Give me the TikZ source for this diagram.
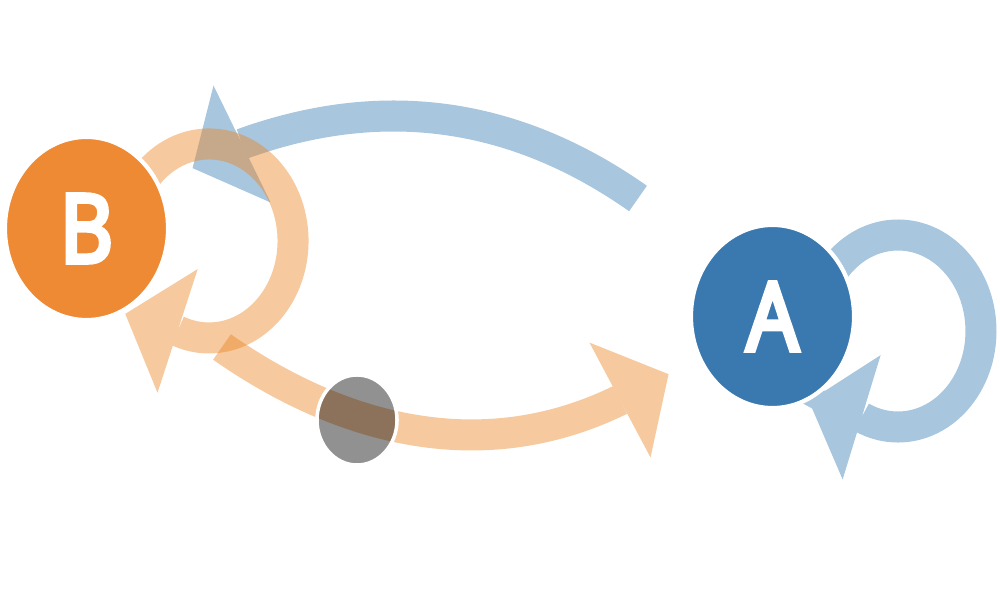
\documentclass[tikz,border=0pt]{standalone}
\usepackage{fontspec}
\setmainfont{Open Sans}
\newfontfamily\letterfont[FakeStretch=0.86,FakeBold=5]{Open Sans}
\usetikzlibrary{arrows.meta,positioning,shapes.geometric}
\definecolor{borange}{HTML}{EE8934}
\definecolor{ablue}{HTML}{3A78B0}
\definecolor{oflow}{HTML}{EB8727}
\definecolor{bflow}{HTML}{3E80B6}
\begin{document}
\begin{tikzpicture}[x=0.01cm,y=0.01cm]

        \tikzstyle{vertex}=[ellipse,draw=white,line width=1.2pt,minimum width=1.63cm,minimum height=1.83cm,inner sep=0pt,text=white,font=\letterfont\fontsize{27}{27}\selectfont]
        \tikzstyle{flow}=[line width=0.31cm,-{Triangle[width=1.3cm,length=0.55cm,line width=0pt]}]
        \tikzstyle{fade}=[transparency group,opacity=0.45]

        \useasboundingbox (0,0) rectangle (1000,600);

        \coordinate (AB0) at (638,401.5);
        \coordinate (AB1) at (242,456);
        \coordinate (AA0) at (834.4,330.7);
        \coordinate (BA0) at (222,253);
        \coordinate (BA1) at (620,200);
        \coordinate (BB0) at (144.7,421.4);

        \begin{scope}[fade]
          \draw[flow,color=bflow] (AB0) .. controls (515,488) and (383,507) .. (AB1) -- ++(206:55);
        \end{scope}
        \begin{scope}[fade]
          \draw[flow,color=bflow] (AA0) arc[start angle=140,end angle=-116,x radius=83,y radius=96] -- ++(163:55);
        \end{scope}
        \begin{scope}[fade]
          \draw[flow,color=oflow] (BA0) .. controls (345,167) and (485,134) .. (BA1) -- ++(28:55);
        \end{scope}
        \begin{scope}[fade]
          \draw[flow,color=oflow] (BB0) arc[start angle=140,end angle=-112,x radius=84,y radius=97] -- ++(162:55);
        \end{scope}

        \node[ellipse,minimum width=0.8cm,minimum height=0.9cm,fill=black,fill opacity=0.43,draw=white,line width=1pt] (dot) at (357,180) {};

        \node[vertex,fill=borange] (B) at (86.5,371.5) {B};
        \node[vertex,fill=ablue] (A) at (772.5,283.5) {A};
      \end{tikzpicture}
\end{document}
